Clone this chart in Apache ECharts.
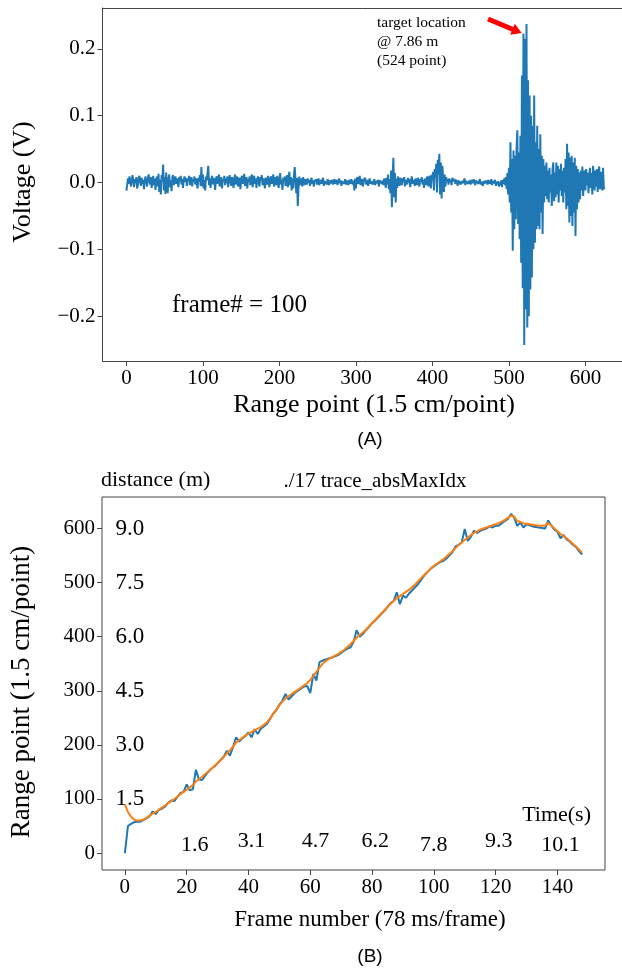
<!DOCTYPE html>
<html><head><meta charset="utf-8">
<script src="https://cdn.jsdelivr.net/npm/echarts@6/dist/echarts.min.js"></script>
<style>html,body{margin:0;padding:0;background:#fff;overflow:hidden}#c{width:622px;height:974px}</style>
</head><body><div id="c"></div>
<script>
// (A) voltage per range point (index = range point 0..625)
const voltage = [
-0.012,-0.004,0.006,-0.002,0.009,0.003,-0.006,0.004,0.011,0.002,
-0.007,0.005,-0.001,0.008,-0.009,-0.003,0.006,0.010,0.001,-0.005,
0.007,-0.002,0.004,-0.010,0.003,0.009,0.002,-0.006,0.005,0.012,
0.004,-0.003,0.008,-0.008,0.001,0.010,-0.004,0.006,-0.011,0.003,
0.009,-0.006,0.013,-0.014,0.004,-0.018,0.011,0.002,0.027,-0.012,
0.008,-0.017,0.015,-0.009,-0.016,0.006,0.012,-0.007,0.003,-0.013,
0.007,0.011,-0.004,0.005,0.009,-0.002,0.006,0.003,-0.007,0.008,
0.002,0.010,-0.003,0.005,-0.008,0.004,0.009,0.001,0.007,-0.005,
0.006,0.002,0.010,-0.004,0.003,0.008,-0.006,0.005,0.001,0.009,
-0.003,0.006,0.004,-0.009,0.007,0.002,0.011,-0.005,0.023,-0.006,
0.012,-0.009,0.004,-0.012,0.009,0.003,0.014,0.025,-0.004,0.006,
-0.008,0.005,0.010,-0.003,0.007,0.001,-0.011,0.006,0.009,-0.002,
0.004,0.012,-0.006,0.003,0.008,-0.009,0.005,0.002,0.010,-0.004,
0.006,-0.001,0.009,-0.007,0.004,0.011,0.001,-0.005,0.008,0.003,
-0.008,0.006,0.012,-0.003,0.005,0.009,-0.006,0.002,0.007,-0.010,
0.004,0.010,-0.002,0.006,0.013,-0.005,0.003,0.008,-0.009,0.005,
0.001,0.009,-0.004,0.007,0.012,-0.007,0.004,0.010,-0.002,0.006,
-0.008,0.005,0.009,0.000,-0.006,0.008,0.003,0.011,-0.004,0.006,
0.002,-0.009,0.007,0.004,-0.003,0.010,0.001,-0.007,0.006,0.009,
-0.002,0.005,0.012,-0.006,0.003,0.008,-0.004,0.010,0.001,-0.008,
0.006,0.014,-0.003,0.004,-0.011,0.007,0.002,0.009,-0.005,0.003,
0.011,-0.007,0.005,0.016,-0.004,0.008,-0.012,0.006,-0.009,0.010,
0.023,0.004,-0.016,0.007,-0.035,-0.008,0.009,-0.004,0.006,0.002,
-0.006,0.008,0.002,-0.004,0.005,0.001,-0.003,0.006,0.000,0.004,
-0.005,0.002,0.007,-0.002,0.003,-0.006,0.004,0.001,0.005,-0.003,
0.002,0.006,-0.004,0.001,0.004,-0.002,0.003,0.007,-0.005,0.002,
0.000,0.004,-0.003,0.005,0.001,-0.004,0.003,0.002,-0.001,0.004,
-0.003,0.002,0.005,-0.002,0.001,0.004,-0.004,0.002,0.006,-0.001,
0.003,-0.005,0.002,0.004,-0.002,0.001,0.005,-0.003,0.003,0.000,
-0.004,0.004,0.002,-0.002,0.005,0.001,-0.003,0.003,-0.012,0.006,
-0.009,0.004,0.008,-0.002,0.003,0.010,-0.004,0.002,0.005,-0.006,
0.003,0.001,0.007,-0.003,0.004,0.000,-0.005,0.003,0.006,-0.002,
0.002,0.004,-0.003,0.001,0.005,-0.004,0.002,0.003,-0.001,0.004,
-0.006,0.003,0.001,0.005,-0.002,0.003,-0.004,0.006,0.002,-0.008,
0.007,-0.003,0.012,-0.010,0.005,-0.016,0.018,-0.037,0.010,0.037,
-0.022,0.014,-0.030,0.006,-0.008,0.009,0.002,-0.005,0.007,0.003,
-0.004,0.006,0.001,0.008,-0.006,0.004,0.002,-0.003,0.007,0.000,
0.005,-0.007,0.003,0.009,-0.002,0.004,0.001,-0.005,0.006,0.003,
-0.004,0.007,0.002,-0.006,0.005,0.001,0.008,-0.003,0.004,-0.008,
0.006,0.002,-0.004,0.009,0.003,-0.006,0.010,0.005,-0.009,0.012,
0.004,0.016,-0.012,0.020,0.008,0.028,-0.015,0.034,0.012,0.043,
-0.018,0.030,-0.024,0.025,0.006,-0.014,0.012,-0.006,0.008,0.002,
0.005,-0.003,0.006,0.001,0.004,-0.004,0.007,0.002,0.000,0.005,
-0.002,0.004,0.006,-0.005,0.003,0.001,0.005,-0.003,0.002,0.004,
-0.001,0.003,0.006,-0.004,0.002,0.000,0.004,-0.002,0.003,0.001,
-0.003,0.004,0.002,-0.001,0.005,0.000,-0.004,0.003,0.001,0.004,
-0.002,0.002,0.005,-0.003,0.001,0.003,-0.005,0.002,0.004,-0.001,
0.003,0.000,-0.003,0.004,0.002,-0.002,0.001,0.005,-0.004,0.002,
0.003,-0.001,0.004,-0.005,0.001,-0.003,0.002,-0.006,0.000,-0.004,
0.003,-0.007,0.004,-0.002,0.006,-0.004,0.008,-0.010,0.014,-0.018,
0.022,-0.030,0.060,-0.045,0.035,-0.102,0.048,-0.070,0.040,-0.055,
0.052,0.078,-0.062,0.045,-0.085,0.070,-0.120,0.160,-0.158,0.223,
-0.243,0.215,-0.190,0.237,-0.217,0.153,-0.200,0.130,-0.160,0.100,
-0.142,0.085,-0.100,0.130,-0.090,0.060,-0.070,0.085,-0.065,0.050,
-0.070,0.072,-0.045,0.040,-0.077,0.035,-0.030,0.025,-0.020,0.030,
-0.025,0.018,-0.030,0.022,-0.015,0.012,-0.035,0.020,0.030,-0.028,
0.015,-0.022,0.030,-0.018,0.025,-0.030,0.020,-0.012,0.028,-0.020,
0.018,-0.030,0.022,-0.015,0.035,-0.040,0.058,-0.035,0.045,-0.060,
0.037,-0.050,0.040,-0.065,0.030,-0.045,0.037,-0.080,0.025,-0.040,
0.020,-0.030,0.015,-0.025,0.018,-0.012,0.024,-0.020,0.008,0.018,
-0.012,0.020,-0.004,0.015,-0.016,0.010,0.022,-0.008,0.014,-0.018,
0.025,0.005,-0.012,0.018,-0.006,0.020,-0.014,0.012,0.024,-0.010,
0.016,0.006,-0.012,0.022,-0.008,-0.010
];
const rangeTicksA = [0,100,200,300,400,500,600];
const voltTicks = [-0.2,-0.1,0,0.1,0.2];

// (B) abs-max index per frame (index = frame number 0..148)
const frameRaw = [
0,50,54,57,58,58,61,64,68,77,
72,80,82,86,93,97,96,104,111,113,
127,116,118,154,136,135,143,150,156,160,
166,172,178,189,180,196,214,206,212,216,
223,214,229,220,230,234,239,248,258,264,
274,282,294,284,290,296,300,304,308,309,
296,331,319,353,356,358,360,361,364,366,
370,374,378,380,390,412,400,405,412,418,
425,430,436,442,448,455,462,466,482,460,
476,472,480,486,492,498,506,514,520,526,
530,534,538,540,544,550,556,567,570,574,
599,577,585,596,592,596,598,600,604,602,
605,605,610,614,618,627,620,605,611,602,
608,606,604,603,602,601,600,615,606,598,
594,582,588,580,576,570,566,558,552
];
const frameSmooth = [
90,76,67,62,60,60,62,65,69,73,
76,80,84,88,92,96,100,104,109,113,
117,121,126,132,137,141,146,151,156,161,
166,172,178,184,190,197,204,209,213,217,
221,224,227,230,233,237,242,249,257,265,
273,280,286,290,294,298,302,306,310,314,
320,327,335,343,350,355,359,362,365,368,
372,376,381,386,392,398,403,408,413,419,
425,431,437,443,449,455,461,466,471,475,
479,483,487,492,497,503,509,515,520,526,
531,535,539,543,548,553,558,564,569,574,
579,583,588,592,595,598,600,602,604,606,
608,610,613,616,620,624,622,614,612,610,
609,608,607,606,605,605,606,610,606,600,
595,590,586,582,577,572,567,561,555
];
const frameTicks = [0,20,40,60,80,100,120,140];
const rangeTicksB = [0,100,200,300,400,500,600];
const distLabels = ['9.0','7.5','6.0','4.5','3.0','1.5'];
const distLevels = [600,500,400,300,200,100];
const timeLabels = ['1.6','3.1','4.7','6.2','7.8','9.3','10.1'];
const timeFrames = [20,40,60,80,100,120,140];

const SERIF = '"Liberation Serif", "DejaVu Serif", serif';
const SANS = '"Liberation Sans", Arial, sans-serif';
const AX = '#444';

function tickAxis(extra, ticks, fmt, spine) {
  return Object.assign({
    type: 'value',
    axisLine: {show: !!spine, onZero: false, lineStyle: {color: AX, width: 1}},
    splitLine: {show: false},
    axisTick: {show: true, customValues: ticks, length: 5, lineStyle: {color: AX, width: 1}},
    axisLabel: {customValues: ticks, fontFamily: SERIF, fontSize: 21, color: '#000', margin: 7,
      formatter: fmt}
  }, extra);
}
const fmtVolt = v => (v < 0 ? '\u2212' : '') + Math.abs(v).toFixed(1);
const fmtInt = v => String(Math.round(v));

// label position tweaks (frame, range) for the in-plot annotations
const timeDx = [2.6, 1, 1.7, 1, 0, 1, 1];
const timeY = [15, 21, 21, 21, 15, 21, 15];

const labelBase = {show: true, position: 'inside', fontFamily: SERIF, color: '#000',
  textBorderWidth: 0, textShadowBlur: 0, opacity: 1};

const chart = echarts.init(document.getElementById('c'), null, {renderer: 'canvas'});
chart.setOption({
  animation: false,
  backgroundColor: '#fff',
  grid: [
    {left: 102.5, top: 8, right: 0, height: 353, show: false,
     containLabel: false, outerBoundsMode: 'none'},
    {left: 102, top: 497, width: 503, height: 373, show: true, borderColor: AX, borderWidth: 1,
     containLabel: false, outerBoundsMode: 'none'}
  ],
  xAxis: [
    tickAxis({gridIndex: 0, min: -31.25, max: 647.8, position: 'bottom'}, rangeTicksA, fmtInt, true),
    tickAxis({gridIndex: 1, min: -7.4, max: 155.4}, frameTicks, fmtInt, false),
    {type: 'value', gridIndex: 0, min: -31.25, max: 647.8, position: 'top',
     axisLine: {show: true, onZero: false, lineStyle: {color: AX, width: 1}},
     axisTick: {show: false}, axisLabel: {show: false}, splitLine: {show: false}}
  ],
  yAxis: [
    tickAxis({gridIndex: 0, min: -0.267, max: 0.261, position: 'left'}, voltTicks, fmtVolt, true),
    tickAxis({gridIndex: 1, min: -31.35, max: 658.35}, rangeTicksB, fmtInt, false)
  ],
  series: [
    {type: 'line', xAxisIndex: 0, yAxisIndex: 0, showSymbol: false, symbol: 'none',
     data: voltage.map((v, i) => [i, v]),
     lineStyle: {color: '#1f77b4', width: 2}},
    {type: 'line', xAxisIndex: 1, yAxisIndex: 1, showSymbol: false, symbol: 'none',
     data: frameRaw.map((v, i) => [i, v]),
     lineStyle: {color: '#1f77b4', width: 2}},
    {type: 'line', xAxisIndex: 1, yAxisIndex: 1, showSymbol: false, symbol: 'none',
     data: frameSmooth.map((v, i) => [i, v]),
     lineStyle: {color: '#ff7f0e', width: 2}},
    {type: 'scatter', xAxisIndex: 1, yAxisIndex: 1, symbolSize: 0, silent: true,
     itemStyle: {color: '#000'},
     label: Object.assign({fontSize: 23}, labelBase),
     data: distLevels.map((y, i) => ({value: [1.6, y], label: {formatter: distLabels[i]}}))},
    {type: 'scatter', xAxisIndex: 1, yAxisIndex: 1, symbolSize: 0, silent: true,
     itemStyle: {color: '#000'},
     label: Object.assign({fontSize: 22}, labelBase),
     data: timeFrames.map((f, i) => ({value: [f + timeDx[i], timeY[i]], label: {formatter: timeLabels[i]}}))}
  ],
  graphic: [
    {type: 'rect', z: 1000, shape: {x: 618, y: 9.5, width: 6, height: 351},
     style: {fill: '#fff'}, silent: true},
    {type: 'text', x: 23, y: 182, rotation: Math.PI / 2,
     style: {text: 'Voltage (V)', font: '26px ' + SERIF, fill: '#000', textAlign: 'center', textVerticalAlign: 'middle'}},
    {type: 'text', x: 374, y: 405,
     style: {text: 'Range point (1.5 cm/point)', font: '26px ' + SERIF, fill: '#000', textAlign: 'center', textVerticalAlign: 'middle'}},
    {type: 'text', x: 370, y: 440,
     style: {text: '(A)', font: '19px ' + SANS, fill: '#000', textAlign: 'center', textVerticalAlign: 'middle'}},
    {type: 'text', x: 377, y: 23,
     style: {text: 'target location', font: '15.5px ' + SERIF, fill: '#000', textAlign: 'left', textVerticalAlign: 'middle'}},
    {type: 'text', x: 377, y: 42,
     style: {text: '@ 7.86 m', font: '15.5px ' + SERIF, fill: '#000', textAlign: 'left', textVerticalAlign: 'middle'}},
    {type: 'text', x: 377, y: 61,
     style: {text: '(524 point)', font: '15.5px ' + SERIF, fill: '#000', textAlign: 'left', textVerticalAlign: 'middle'}},
    {type: 'polygon', shape: {points: [[487.0, 21.3], [511.5, 31.5], [510.2, 34.7], [521.7, 33], [514.8, 23.7], [513.5, 26.9], [489.0, 16.7]]},
     style: {fill: '#ff0000'}},
    {type: 'text', x: 172, y: 305,
     style: {text: 'frame# = 100', font: '25px ' + SERIF, fill: '#000', textAlign: 'left', textVerticalAlign: 'middle'}},
    {type: 'text', x: 101, y: 480,
     style: {text: 'distance (m)', font: '22px ' + SERIF, fill: '#000', textAlign: 'left', textVerticalAlign: 'middle'}},
    {type: 'text', x: 375, y: 481,
     style: {text: './17 trace_absMaxIdx', font: '21px ' + SERIF, fill: '#000', textAlign: 'center', textVerticalAlign: 'middle'}},
    {type: 'text', x: 591, y: 815,
     style: {text: 'Time(s)', font: '22px ' + SERIF, fill: '#000', textAlign: 'right', textVerticalAlign: 'middle'}},
    {type: 'text', x: 22, y: 692, rotation: Math.PI / 2,
     style: {text: 'Range point (1.5 cm/point)', font: '27px ' + SERIF, fill: '#000', textAlign: 'center', textVerticalAlign: 'middle'}},
    {type: 'text', x: 370, y: 920,
     style: {text: 'Frame number (78 ms/frame)', font: '23px ' + SERIF, fill: '#000', textAlign: 'center', textVerticalAlign: 'middle'}},
    {type: 'text', x: 370, y: 957,
     style: {text: '(B)', font: '19px ' + SANS, fill: '#000', textAlign: 'center', textVerticalAlign: 'middle'}}
  ]
});
</script>
</body></html>
